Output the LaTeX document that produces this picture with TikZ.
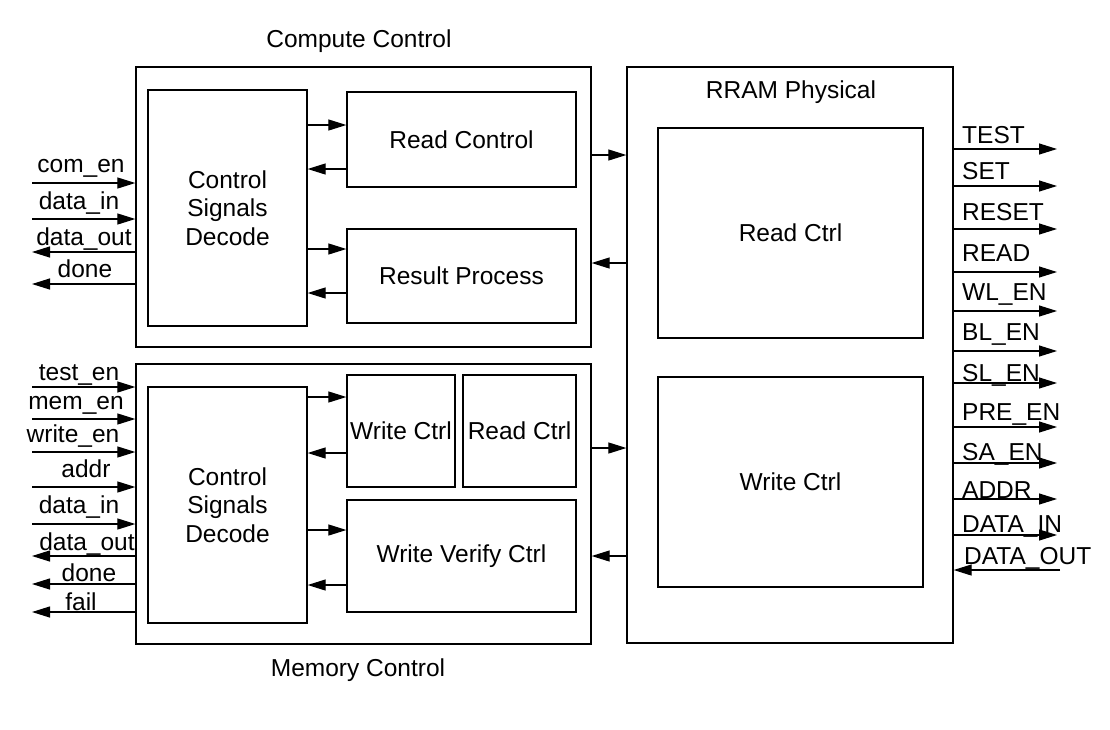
\documentclass[tikz,border=0pt]{standalone}
\usepackage{fontspec}
\setmainfont{Liberation Sans}
\usetikzlibrary{arrows.meta}
\begin{document}
\begin{tikzpicture}[x=1pt,y=-1pt,
  every node/.style={font=\fontsize{24.5}{28.5}\selectfont, inner sep=0pt},
  box/.style={draw, line width=1.3pt, rectangle, align=center},
  arr/.style={line width=1.2pt, -{Triangle[length=18pt,width=11pt]}},
  lbl/.style={anchor=base},
  rlbl/.style={anchor=base west}]
\useasboundingbox (0,0) rectangle (1110,729);
% outer boxes
\node[box, minimum width=455pt, minimum height=280pt] (cc) at (363.5,207) {};
\node[box, minimum width=455pt, minimum height=280pt] (mc) at (363.5,504) {};
\node[box, minimum width=326pt, minimum height=576pt] (rp) at (790,355) {};
\node (cct) at (359,41) {Compute Control};
\node (mct) at (358,670) {Memory Control};
\node (rpt) at (791,92) {RRAM Physical};
% compute control inner
\node[box, minimum width=159pt, minimum height=236pt] (csd1) at (227.5,208) {Control\\Signals\\Decode};
\node[box, minimum width=229pt, minimum height=95pt] (rc) at (461.5,139.5) {Read Control};
\node[box, minimum width=229pt, minimum height=94pt] (res) at (461.5,276) {Result Process};
% memory control inner
\node[box, minimum width=159pt, minimum height=236pt] (csd2) at (227.5,505) {Control\\Signals\\Decode};
\node[box, minimum width=108pt, minimum height=112pt] (wc) at (401,431) {Write Ctrl};
\node[box, minimum width=113pt, minimum height=112pt] (rdc) at (519.5,431) {Read Ctrl};
\node[box, minimum width=229pt, minimum height=112pt] (wvc) at (461.5,556) {Write Verify Ctrl};
% RRAM inner
\node[box, minimum width=265pt, minimum height=210pt] (prc) at (790.5,233) {Read Ctrl};
\node[box, minimum width=265pt, minimum height=210pt] (pwc) at (790.5,482) {Write Ctrl};
% inner arrows
\draw[arr] (csd1.east |- 0,125) -- (rc.west |- 0,125);
\draw[arr] (rc.west |- 0,169) -- (csd1.east |- 0,169);
\draw[arr] (csd1.east |- 0,249) -- (res.west |- 0,249);
\draw[arr] (res.west |- 0,293) -- (csd1.east |- 0,293);
\draw[arr] (csd2.east |- 0,397) -- (wc.west |- 0,397);
\draw[arr] (wc.west |- 0,453) -- (csd2.east |- 0,453);
\draw[arr] (csd2.east |- 0,530) -- (wvc.west |- 0,530);
\draw[arr] (wvc.west |- 0,585) -- (csd2.east |- 0,585);
% between blocks
\draw[arr] (cc.east |- 0,155) -- (rp.west |- 0,155);
\draw[arr] (rp.west |- 0,263) -- (cc.east |- 0,263);
\draw[arr] (mc.east |- 0,448) -- (rp.west |- 0,448);
\draw[arr] (rp.west |- 0,556) -- (mc.east |- 0,556);
% left signals, compute control
\coordinate (a1) at (32,183); \coordinate (a2) at (32,219);
\coordinate (a3) at (32,252); \coordinate (a4) at (32,284);
\draw[arr] (a1) -- (cc.west |- a1);
\draw[arr] (a2) -- (cc.west |- a2);
\draw[arr] (cc.west |- a3) -- (a3);
\draw[arr] (cc.west |- a4) -- (a4);
\node[lbl] (la1) at (81,172) {com\_en};
\node[lbl] (la2) at (79,209) {data\_in};
\node[lbl] (la3) at (84,245) {data\_out};
\node[lbl] (la4) at (85,277) {done};
% left signals, memory control
\coordinate (b1) at (32,387); \coordinate (b2) at (32,419);
\coordinate (b3) at (32,452); \coordinate (b4) at (32,487);
\coordinate (b5) at (32,524); \coordinate (b6) at (32,556);
\coordinate (b7) at (32,584); \coordinate (b8) at (32,612);
\draw[arr] (b1) -- (mc.west |- b1);
\draw[arr] (b2) -- (mc.west |- b2);
\draw[arr] (b3) -- (mc.west |- b3);
\draw[arr] (b4) -- (mc.west |- b4);
\draw[arr] (b5) -- (mc.west |- b5);
\draw[arr] (mc.west |- b6) -- (b6);
\draw[arr] (mc.west |- b7) -- (b7);
\draw[arr] (mc.west |- b8) -- (b8);
\node[lbl] (lb1) at (79,380) {test\_en};
\node[lbl] (lb2) at (76,409) {mem\_en};
\node[lbl] (lb3) at (73,442) {write\_en};
\node[lbl] (lb4) at (86,477) {addr};
\node[lbl] (lb5) at (79,513) {data\_in};
\node[lbl] (lb6) at (87,550) {data\_out};
\node[lbl] (lb7) at (89,581) {done};
\node[lbl] (lb8) at (81,610) {fail};
% right signals
\foreach \n/\y/\t/\yt in {1/149/TEST/143, 2/186/SET/179, 3/229/RESET/220, 4/272/READ/261, 5/311/WL\_EN/300, 6/351/BL\_EN/340, 7/383/SL\_EN/381, 8/427/PRE\_EN/420, 9/463/SA\_EN/460, 10/499/ADDR/498, 11/535/DATA\_IN/532}{
  \coordinate (r\n) at (1057,\y);
  \draw[arr] (rp.east |- r\n) -- (r\n);
  \node[rlbl] (lr\n) at (962,\yt) {\t};
}
\coordinate (r12) at (1060,570);
\draw[arr] (r12) -- (rp.east |- r12);
\node[rlbl] (lr12) at (964,564) {DATA\_OUT};
\end{tikzpicture}
\end{document}
